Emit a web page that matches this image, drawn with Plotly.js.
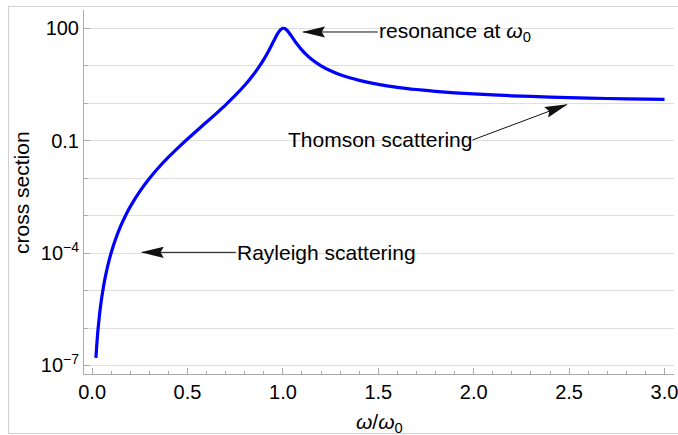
<!DOCTYPE html>
<html>
<head>
<meta charset="utf-8">
<script src="https://cdn.plot.ly/plotly-3.0.1.min.js"></script>
<style>
  html, body { margin: 0; padding: 0; background: #fff; }
  #wrap { position: relative; width: 678px; height: 435px; overflow: hidden; }
  #chart { position: absolute; left: 0; top: 0; width: 678px; height: 435px; }
  #frame { position: absolute; left: 8px; top: 6px; width: 690px; height: 426px;
           border: 1px solid #d0d0d0; pointer-events: none; }
</style>
</head>
<body>
<div id="wrap"><div id="chart"></div><div id="frame"></div></div>
<script>
// ω/ω0 values
var omega = [0.02,0.025,0.03,0.04,0.05,0.06,0.07,0.08,0.09,0.1,
  0.12,0.15,0.18,0.2,0.25,0.3,0.35,0.4,0.45,0.5,
  0.55,0.6,0.65,0.7,0.75,0.8,0.82,0.84,0.86,0.88,
  0.9,0.92,0.94,0.95,0.96,0.97,0.98,0.99,1.0,1.01,
  1.02,1.03,1.04,1.05,1.06,1.07,1.08,1.1,1.12,1.15,
  1.2,1.25,1.3,1.35,1.4,1.5,1.6,1.7,1.8,1.9,
  2.0,2.2,2.4,2.6,2.8,3.0];
// cross section values
var crossSection = [1.6e-7,3.91e-7,8.11e-7,2.57e-6,6.28e-6,1.31e-5,2.43e-5,4.15e-5,6.67e-5,1.02e-4,
  2.13e-4,5.30e-4,1.12e-3,1.74e-3,4.44e-3,9.77e-3,0.0195,0.0362,0.0643,0.111,
  0.187,0.314,0.529,0.906,1.61,3.01,3.96,5.31,7.27,10.2,
  14.8,22.3,34.9,44.0,55.3,68.6,82.6,94.2,100,98.1,
  89.9,78.6,66.9,56.5,47.6,40.4,34.6,26.1,20.4,14.9,
  9.97,7.35,5.79,4.78,4.08,3.19,2.66,2.32,2.08,1.90,
  1.77,1.58,1.46,1.37,1.31,1.26];

var xTickVals = [0,0.5,1,1.5,2,2.5,3];
var xTickText = ["0.0","0.5","1.0","1.5","2.0","2.5","3.0"];
var xGridVals = [0.5,1,1.5,2,2.5,3];
var xTopMajor = [0,1,2,3];
var yTickVals = [1e-7,1e-4,0.1,100];
var yTickText = ["10<sup>\u22127</sup>","10<sup>\u22124</sup>","0.1","100"];
var yMinorVals = [1e-6,1e-5,1e-3,0.01,1,10];
var yAllDecades = [1e-7,1e-6,1e-5,1e-4,1e-3,0.01,0.1,1,10,100];

var labels = ["resonance at <i>\u03c9</i><sub>0</sub>", "Thomson scattering", "Rayleigh scattering"];
var xTitle = "<i>\u03c9</i>/<i>\u03c9</i><sub>0</sub>";
var yTitle = "cross section";

var FONT = "Liberation Sans, Arial, sans-serif";
var frameCol = "#ababab";
var gridCol = "#dedede";
var xRange = [-0.0425, 3.0498];
var yRange = [-7.227, 2.488];

var trace = {
  x: omega, y: crossSection, type: "scatter", mode: "lines",
  line: {color: "#0000ff", width: 3.2, shape: "spline", smoothing: 0.6},
  hoverinfo: "skip", showlegend: false
};

var layout = {
  width: 678, height: 435,
  margin: {l: 84, r: 4, t: 10, b: 61},
  paper_bgcolor: "rgba(0,0,0,0)", plot_bgcolor: "#fff",
  font: {family: FONT, size: 20, color: "#000"},
  showlegend: false,
  xaxis: {
    range: xRange, autorange: false, tickmode: "array", tickvals: xTickVals, ticktext: xTickText,
    ticks: "inside", ticklen: 6, tickwidth: 1, tickcolor: frameCol, ticklabeloverflow: "allow",
    showgrid: false, zeroline: false, showline: true, linecolor: frameCol, linewidth: 1,
    tickfont: {family: FONT, size: 20, color: "#000"},
    minor: {tick0: 0, dtick: 0.1, ticks: "inside", ticklen: 3, tickcolor: frameCol, showgrid: false}
  },
  xaxis2: {
    overlaying: "x", side: "top", anchor: "y", range: xRange, autorange: false,
    tickmode: "array", tickvals: xTopMajor, showticklabels: false,
    ticks: "inside", ticklen: 6, tickcolor: frameCol,
    showgrid: false, zeroline: false, showline: true, linecolor: frameCol, linewidth: 1,
    minor: {tick0: 0, dtick: 0.2, ticks: "inside", ticklen: 3, tickcolor: frameCol, showgrid: false}
  },
  xaxis3: {
    overlaying: "x", side: "bottom", anchor: "y", range: xRange, autorange: false,
    tickmode: "array", tickvals: xGridVals, showticklabels: false, ticks: "",
    showgrid: true, gridcolor: gridCol, gridwidth: 1, zeroline: false, showline: false
  },
  yaxis: {
    type: "log", range: yRange, autorange: false,
    tickmode: "array", tickvals: yTickVals, ticktext: yTickText,
    ticks: "inside", ticklen: 6, tickcolor: frameCol, ticklabeloverflow: "allow",
    showgrid: true, gridcolor: gridCol, gridwidth: 1,
    zeroline: false, showline: true, linecolor: frameCol, linewidth: 1,
    tickfont: {family: FONT, size: 20, color: "#000"},
    minor: {tickmode: "array", tickvals: yMinorVals, ticks: "inside", ticklen: 3.5, tickcolor: frameCol,
            showgrid: true, gridcolor: gridCol, gridwidth: 1}
  },
  yaxis2: {
    type: "log", overlaying: "y", side: "right", anchor: "x", range: yRange, autorange: false,
    tickmode: "array", tickvals: yAllDecades, showticklabels: false,
    ticks: "inside", ticklen: 5, tickcolor: frameCol,
    showgrid: false, zeroline: false, showline: true, linecolor: frameCol, linewidth: 1
  },
  annotations: [
    {x: 1.10, y: 1.901, ax: 1.497, ay: 1.901, xref: "x", yref: "y", axref: "x", ayref: "y",
     text: labels[0], showarrow: true, arrowhead: 2, arrowsize: 1, arrowwidth: 1, arrowcolor: "#111",
     xanchor: "left", yanchor: "middle", font: {family: FONT, size: 21, color: "#000"}, borderpad: 0},
    {x: 2.493, y: -0.028, ax: 1.994, ay: -0.981, xref: "x", yref: "y", axref: "x", ayref: "y",
     text: labels[1], showarrow: true, arrowhead: 2, arrowsize: 1, arrowwidth: 1, arrowcolor: "#111",
     xanchor: "right", yanchor: "middle", font: {family: FONT, size: 21, color: "#000"}, borderpad: 0},
    {x: 0.255, y: -3.98, ax: 0.753, ay: -3.98, xref: "x", yref: "y", axref: "x", ayref: "y",
     text: labels[2], showarrow: true, arrowhead: 2, arrowsize: 1, arrowwidth: 1, arrowcolor: "#111",
     xanchor: "left", yanchor: "middle", font: {family: FONT, size: 21, color: "#000"}, borderpad: 0},
    {x: 0.5, y: -0.1346, xref: "paper", yref: "paper", text: xTitle, showarrow: false,
     xanchor: "center", yanchor: "middle", font: {family: FONT, size: 21, color: "#000"}},
    {x: -0.1068, y: 0.5, xref: "paper", yref: "paper", text: yTitle, showarrow: false, textangle: -90,
     xanchor: "center", yanchor: "middle", font: {family: FONT, size: 21, color: "#000"}}
  ]
};

function fixHeads() {
  var paths = document.querySelectorAll("#chart path");
  for (var i = 0; i < paths.length; i++) {
    var d = paths[i].getAttribute("d") || "";
    if (d.indexOf("V2.5L1.3,0Z") !== -1) {
      paths[i].setAttribute("d", "M1.3,0L-21.7,-5.6L-18.5,0L-21.7,5.6Z");
    }
  }
}

Plotly.newPlot("chart", [trace], layout, {displayModeBar: false, staticPlot: true}).then(function (gd) {
  fixHeads();
  gd.on("plotly_afterplot", fixHeads);
});
</script>
</body>
</html>
